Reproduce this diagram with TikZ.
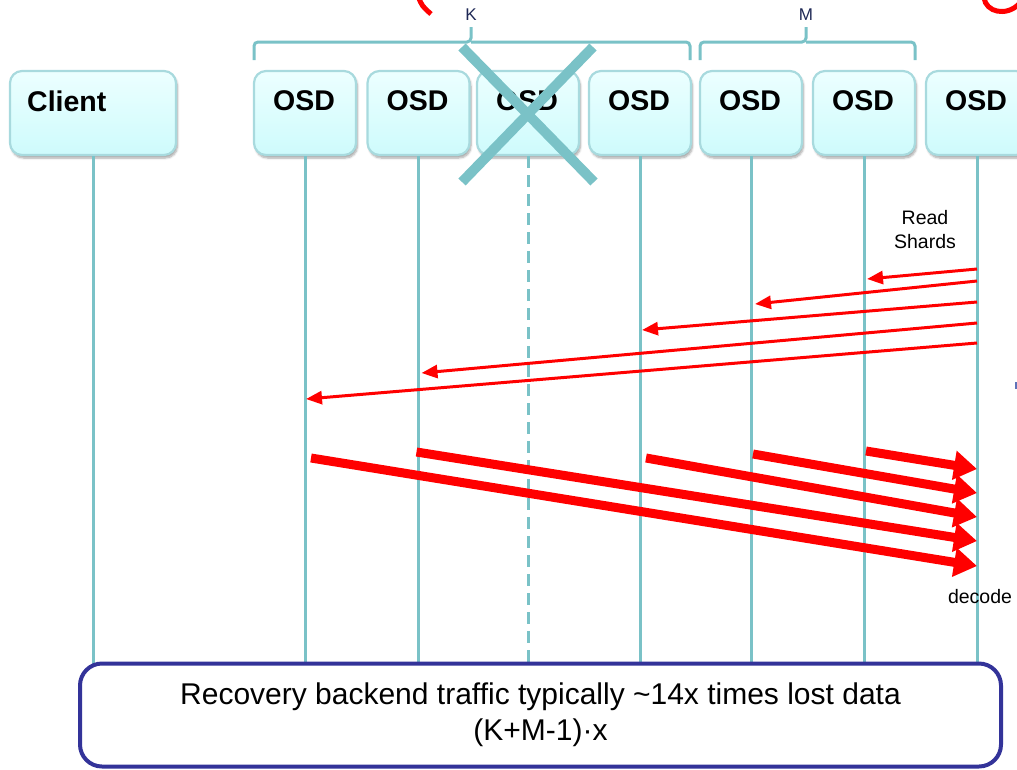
\documentclass[tikz,border=0pt]{standalone}
\usepackage{fontspec}
\setmainfont{Liberation Sans}
\usetikzlibrary{arrows.meta,calc,shadows.blur}

\definecolor{life}{RGB}{122,194,199}
\definecolor{boxedge}{RGB}{168,218,222}
\definecolor{boxtop}{RGB}{236,255,255}
\definecolor{boxbot}{RGB}{206,251,252}
\definecolor{navy}{RGB}{51,51,153}
\definecolor{lbl}{RGB}{30,40,85}
\definecolor{speck}{RGB}{95,115,185}

\begin{document}
\begin{tikzpicture}[x=1pt,y=-1pt,
  headbox/.style={draw=boxedge, line width=2.2pt, rounded corners=12pt,
    top color=boxtop, bottom color=boxbot, minimum height=84pt, inner sep=0pt,
    blur shadow={shadow xshift=1.5pt, shadow yshift=-3pt, shadow blur steps=6, shadow opacity=35}},
  osdbox/.style={headbox, minimum width=102pt},
  headtext/.style={font=\bfseries\fontsize{28.5}{30}\selectfont, inner sep=0pt},
  lifeline/.style={draw=life, line width=3pt},
  deadline/.style={lifeline, dash pattern=on 12pt off 7pt},
  crossline/.style={draw=life, line width=10pt},
  brace/.style={draw=life, line width=3pt, rounded corners=4pt},
  bracelabel/.style={font=\fontsize{17}{19}\selectfont, text=lbl, inner sep=0pt},
  readarrow/.style={draw=red, line width=3pt, -{Triangle[length=16pt,width=13pt]}},
  sendarrow/.style={draw=red, line width=9pt, -{Triangle[length=23pt,width=28pt]}},
  note/.style={font=\fontsize{19.5}{24}\selectfont, align=center, inner sep=0pt},
  summary/.style={draw=navy, line width=4pt, rounded corners=22pt, fill=white,
    minimum width=921pt, minimum height=103pt, align=center,
    font=\fontsize{30}{36}\selectfont}
]
\useasboundingbox (0,0) rectangle (1017,769);

% cropped title fragments along the top edge
\draw[red, line width=5pt] (418,-4) .. controls (422,6) .. (431,14);
\draw[red, line width=5pt] (984,-2) .. controls (986,12) and (1006,17) .. (1019,4);
\draw[speck, line width=1.5pt] (1016,382) -- (1016,389);

% participant heads
\node[headbox, minimum width=166pt] (cl) at (93,113) {};
\node[osdbox] (o1) at (305,113) {};
\node[osdbox] (o2) at (418.5,113) {};
\node[osdbox] (o3) at (528,113) {};
\node[osdbox] (o4) at (640,113) {};
\node[osdbox] (o5) at (751,113) {};
\node[osdbox] (o6) at (864,113) {};
\node[osdbox] (o7) at (977,113) {};

\node[headtext, anchor=west] (clt) at (27,101) {Client};
\foreach \n in {1,...,7}
  \node[headtext] (o\n t) at ($(o\n)+(-1,-12)$) {OSD};

% K and M groups
\draw[brace] (254,60) -- (254,42) -- (471,42) -- (471,27);
\draw[brace] (690,60) -- (690,42) -- (471,42);
\draw[brace] (700,60) -- (700,42) -- (806,42) -- (806,27);
\draw[brace] (915,60) -- (915,42) -- (806,42);
\node[bracelabel] (kl) at (471,15) {K};
\node[bracelabel] (ml) at (806,15) {M};

\path (540.5,715) coordinate (botc);

% lifelines
\draw[lifeline] (cl.south) -- (cl.south |- 0,665);
\draw[lifeline] (o1.south) -- (o1.south |- 0,665);
\draw[lifeline] (o2.south) -- (o2.south |- 0,665);
\draw[deadline] (o3.south) -- (o3.south |- 0,665);
\draw[lifeline] (o4.south) -- (o4.south |- 0,665);
\draw[lifeline] (o5.south) -- (o5.south |- 0,665);
\draw[lifeline] (o6.south) -- (o6.south |- 0,665);
\draw[lifeline] (o7.south) -- (o7.south |- 0,665);

% failed OSD
\draw[crossline] ($(o3)+(-66,-66)$) -- ($(o3)+(66,69)$);
\draw[crossline] ($(o3)+(65,-66)$) -- ($(o3)+(-66,69)$);

% shard reads
\node[note] (rs) at (925,230) {Read\\Shards};
\draw[readarrow] (o7 |- 0,269) -- ($(o6 |- 0,279)+(3,0)$);
\draw[readarrow] (o7 |- 0,281) -- ($(o5 |- 0,304)+(4,0)$);
\draw[readarrow] (o7 |- 0,302) -- ($(o4 |- 0,330)+(2,0)$);
\draw[readarrow] (o7 |- 0,323) -- ($(o2 |- 0,373)+(3,0)$);
\draw[readarrow] (o7 |- 0,343) -- ($(o1 |- 0,399)+(1,0)$);

% shard transfers
\draw[sendarrow] ($(o6 |- 0,451)+(2,0)$) -- (o7 |- 0,469);
\draw[sendarrow] ($(o5 |- 0,454)+(2,0)$) -- (o7 |- 0,493);
\draw[sendarrow] ($(o4 |- 0,458)+(6,0)$) -- (o7 |- 0,517);
\draw[sendarrow] ($(o2 |- 0,452)+(-2,0)$) -- (o7 |- 0,541);
\draw[sendarrow] ($(o1 |- 0,458)+(6,0)$) -- (o7 |- 0,566);
\node[note] (dec) at (980,597) {decode};

\node[summary] (bot) at (botc) {Recovery backend traffic typically \textasciitilde14x times lost data\\(K+M-1)·x};
\end{tikzpicture}
\end{document}
